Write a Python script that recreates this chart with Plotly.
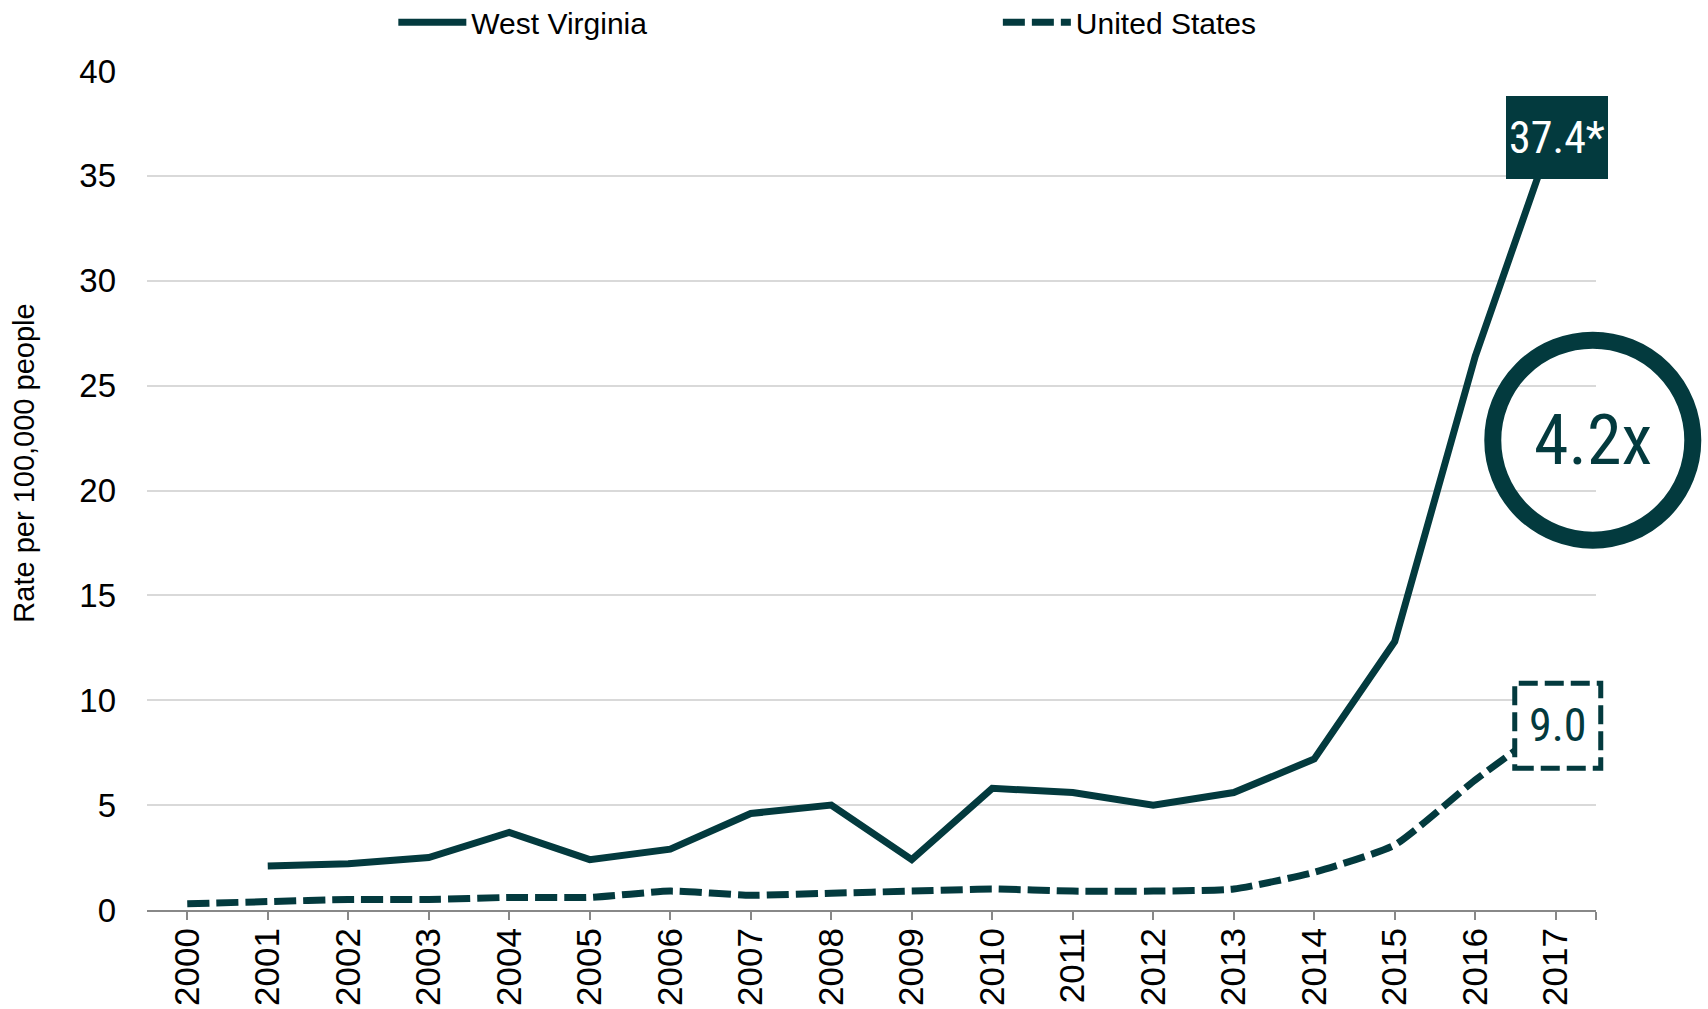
import plotly.graph_objects as go

# Opioid overdose death rates per 100,000 people
years = list(range(2000, 2018))
wv_years = list(range(2001, 2018))
wv_rate = [2.1, 2.2, 2.5, 3.7, 2.4, 2.9, 4.6, 5.0, 2.4, 5.8, 5.6, 5.0, 5.6, 7.2, 12.8, 26.4, 37.4]
us_rate = [0.3, 0.4, 0.5, 0.5, 0.6, 0.6, 0.9, 0.7, 0.8, 0.9, 1.0, 0.9, 0.9, 1.0, 1.8, 3.1, 6.2, 9.0]
ratio_label = "4.2x"

DARK = "#033A3E"
AXIS_GRAY = "#888888"
GRID = "#D9D9D9"
COND = "Roboto Condensed, Liberation Sans Narrow, DejaVu Sans Condensed, sans-serif"
ARIAL = "Liberation Sans, Arial, sans-serif"

x_range = [1999.5, 2017.5]
y_range = [0, 40]


def xp(v):
    return (v - x_range[0]) / (x_range[1] - x_range[0])


def yp(v):
    return (v - y_range[0]) / (y_range[1] - y_range[0])


fig = go.Figure()
fig.add_trace(go.Scatter(
    x=wv_years, y=wv_rate, name="West Virginia", mode="lines",
    line=dict(color=DARK, width=7), legend="legend",
))
fig.add_trace(go.Scatter(
    x=years, y=us_rate, name="United States", mode="lines",
    line=dict(color=DARK, width=7, dash="22px,7px", shape="spline", smoothing=0.5),
    legend="legend2",
))

tickvals = years + [2017.5]
ticktext = [str(y) for y in years] + [""]

fig.update_xaxes(
    range=x_range, tickmode="array", tickvals=tickvals, ticktext=ticktext,
    tickangle=-90, ticks="outside", ticklen=8, tickwidth=2, tickcolor=AXIS_GRAY,
    showline=True, linecolor=AXIS_GRAY, linewidth=2, showgrid=False, zeroline=False,
    ticklabelstandoff=-6,
    tickfont=dict(family=ARIAL, size=35, color="#000000"), automargin=False,
)
fig.update_yaxes(
    range=y_range, dtick=5, showgrid=True, gridcolor=GRID, gridwidth=1.5,
    zeroline=False, showline=False, ticks="", ticklabelstandoff=30,
    tickfont=dict(family=ARIAL, size=33, color="#000000"),
    automargin=False,
)

# vertical axis title
fig.add_annotation(
    xref="paper", yref="paper", x=-0.085, y=0.533, textangle=-90,
    text="Rate per 100,000 people", showarrow=False, xanchor="center", yanchor="middle",
    font=dict(family=ARIAL, size=29, color="#000000"),
)

# dashed value box for the latest U.S. rate
us_last = us_rate[-1]
fig.add_shape(
    type="rect", xref="paper", yref="paper",
    xsizemode="pixel", ysizemode="pixel",
    xanchor=xp(years[-1]), yanchor=yp(us_last),
    x0=-41, x1=45, y0=-47, y1=38,
    line=dict(color=DARK, width=5, dash="19px,7px"), fillcolor="white", layer="above",
)
fig.add_annotation(
    x=years[-1], y=us_last, text=f"{us_last:.1f}", showarrow=False, yshift=-4, xshift=2,
    font=dict(family=COND, size=46, color=DARK),
)

# filled value box for the latest West Virginia rate
wv_last = wv_rate[-1]
fig.add_annotation(
    x=wv_years[-1], y=wv_last, text=f"{wv_last:.1f}*", showarrow=False, yshift=-12, xshift=1,
    width=102, height=83, bgcolor=DARK, borderpad=0, borderwidth=0,
    font=dict(family=COND, size=44, color="white"),
)

# ring with ratio of the two rates
ring_x, ring_y = 2017.46, 22.4
fig.add_shape(
    type="circle", xref="paper", yref="paper",
    xsizemode="pixel", ysizemode="pixel",
    xanchor=xp(ring_x), yanchor=yp(ring_y),
    x0=-100, x1=100, y0=-100, y1=100,
    line=dict(color=DARK, width=17), fillcolor="rgba(255,255,255,0)", layer="above",
)
fig.add_annotation(
    xref="paper", yref="paper", x=xp(ring_x), y=yp(ring_y), text=ratio_label,
    showarrow=False, xanchor="center", yanchor="middle",
    font=dict(family=COND, size=70, color=DARK),
)

legend_style = dict(
    orientation="h", yanchor="middle", xanchor="left", y=1.058,
    itemwidth=68, font=dict(family=ARIAL, size=30, color="#000000"),
    bgcolor="rgba(0,0,0,0)",
)

fig.update_layout(
    width=1708, height=1009,
    margin=dict(l=147, r=112, t=71, b=99, autoexpand=False),
    paper_bgcolor="white", plot_bgcolor="white",
    showlegend=True,
    legend=dict(x=0.170, **legend_style),
    legend2=dict(x=0.5872, **legend_style),
)

fig.write_html("out.html")
